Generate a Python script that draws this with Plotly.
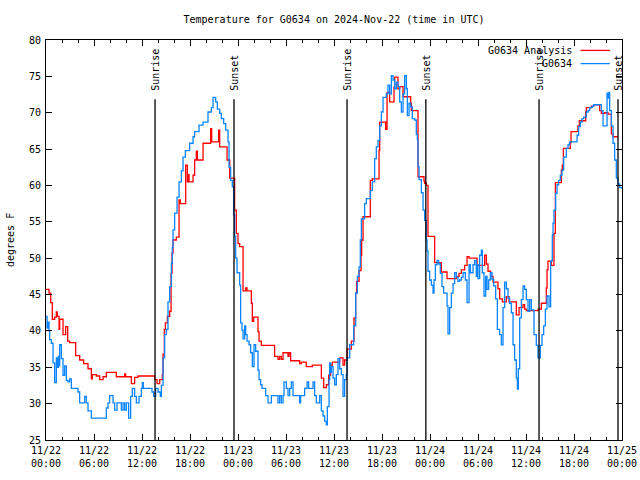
import plotly.graph_objects as go

# time in hours since 2024-11-22 00:00 UTC
analysis_h = [0, 0.38, 0.59, 0.79, 1.08, 1.29, 1.42, 1.63, 1.71, 2.13, 2.46, 2.71, 2.96, 3.71, 4.21, 4.71, 5.25, 5.67, 5.79, 6.29, 6.71, 7.13, 7.54, 8.79, 9.83, 9.96, 10.67, 11.08, 11.5, 13.58, 13.88, 14.21, 14.54, 14.63, 14.79, 14.92, 15.17, 15.46, 15.63,
              15.75, 15.88, 16.29, 16.63, 16.79, 17.46, 17.67, 17.75, 17.88, 18.38, 18.58, 18.79, 18.92, 19.63, 20.58, 20.71, 21.58, 21.71, 22.63, 22.96, 23.58, 23.79, 24.0, 24.21,
              24.63, 24.96, 25.13, 25.67, 25.79, 25.96, 26.5, 26.63, 26.92, 28.58, 29.0, 29.21, 29.42, 29.63, 30.25, 30.38, 30.58, 31.71, 31.92, 32.54, 33.29, 34.42, 34.71, 35.04, 35.33, 35.58, 35.79, 36.71, 37.13, 37.33, 37.63, 38.17, 38.5, 38.71, 38.83, 39.13, 39.38,
              39.46, 39.63, 40.54, 40.79, 41.63, 41.71, 42.46, 42.63, 42.96, 43.5, 43.58, 44.0, 44.21, 44.63, 45.58, 45.67, 46.5, 47.25, 47.33, 47.54, 47.75,
              48.58, 49.42, 50.13, 51.29, 51.63, 51.92, 52.33, 52.63, 52.88, 53.88, 54.83, 55.04, 55.25, 55.58, 55.88, 56.5, 56.71, 57.04, 57.54, 57.88, 58.79, 59.13, 59.63, 59.83, 60.04, 61.5, 61.92, 62.54, 62.63, 62.75, 63.17, 63.5,
              63.67, 64.42, 64.54, 64.67, 65.54, 65.63, 66.5, 66.67, 67.46, 67.54, 68.17, 68.46, 69.21, 69.42, 69.83, 70.25, 70.67, 70.88, 71.5]
analysis_v = [45.7, 45.2, 43.9, 41.6, 41.9, 42.6, 42.0, 40.2, 41.6, 39.5, 40.6, 38.6, 38.4, 36.6, 36.0, 35.5, 34.8, 33.4, 34.0, 33.8, 33.3, 33.7, 34.3, 33.7, 34.1, 33.7, 32.75, 33.6, 33.8, 33.3, 32.75, 33.3, 34.0, 36.8, 40.2, 41.1, 42.0, 42.7, 47.9,
              50.7, 52.5, 52.9, 58.0, 57.5, 62.8, 60.5, 61.5, 60.5, 61.4, 63.5, 64.7, 63.5, 65.8, 67.8, 66.0, 67.6, 65.3, 63.5, 61.0, 56.6, 53.4, 52.0, 51.6,
              45.5, 45.9, 45.5, 43.8, 41.3, 41.9, 39.9, 38.6, 38.0, 36.5, 36.1, 36.5, 36.1, 37.0, 36.5, 37.0, 35.9, 35.5, 35.7, 35.1, 35.3, 33.5, 32.2, 32.6, 33.9, 35.3, 35.7, 36.3, 35.3, 36.0, 37.5, 38.6, 41.8, 45.2, 46.8, 48.3, 50.4,
              52.5, 55.7, 60.7, 60.9, 64.85, 68.7, 67.7, 72.8, 71.5, 73.5, 74.9, 73.3, 73.6, 72.2, 71.3, 70.3, 61.2, 60.6, 60.3, 60.0, 53.0,
              49.4, 48.1, 47.2, 47.5, 47.9, 48.4, 49.0, 50.2, 50.0, 49.0, 50.4, 49.2, 48.2, 47.5, 46.7, 45.8, 44.4, 44.0, 44.7, 44.0, 42.2, 43.2, 43.6, 43.0, 42.8, 43.0, 43.8, 45.9, 48.4, 49.6, 49.0, 53.4,
              60.4, 62.1, 62.8, 65.1, 65.9, 67.4, 68.2, 68.9, 70.1, 70.7, 70.9, 71.1, 70.3, 69.9, 70.0, 69.8, 67.1, 66.7, 66.7]

station_h = [0, 0.13, 0.25, 0.38, 0.46, 0.67, 0.88, 1.08, 1.29, 1.42, 1.54, 1.63, 1.71, 1.92, 2.13, 2.33, 2.54, 2.75, 2.96, 3.17, 4.0, 4.21, 4.83, 5.04, 5.25, 5.67, 7.54, 7.75, 7.96, 8.38, 8.58, 8.88, 9.42, 9.63, 9.83, 10.04, 10.33, 10.58, 10.79, 11.08, 11.29, 11.63, 11.92, 12.04, 12.17, 13.25, 13.46, 13.71, 14.0, 14.29, 14.42, 14.63, 14.83, 15.04, 15.25, 15.46, 15.67,
             15.79, 15.88, 16.08, 16.38, 16.63, 16.92, 17.13, 17.42, 17.96, 18.38, 18.58, 19.13, 19.63, 20.25, 20.67, 20.88, 21.21, 21.42, 21.71, 21.92, 22.21, 22.46, 22.75, 22.88, 23.08, 23.29, 23.46, 23.58, 23.71,
             23.88, 24.21, 24.33, 24.5, 24.63, 24.83, 24.96, 25.13, 25.38, 25.58, 25.79, 26.0, 26.21, 26.5, 26.63, 26.83, 27.0, 27.46, 27.75, 28.17, 29.0, 29.21, 29.42, 29.63, 29.75, 30.04, 30.25, 30.46, 30.67, 30.88, 31.71, 31.83, 32.33, 32.63, 32.83, 33.38, 33.58, 33.79, 34.21, 34.42, 34.63, 34.83, 35.04, 35.17, 35.38, 35.46, 35.58, 35.67, 35.88, 36.08, 36.29, 36.5, 36.71, 36.92, 37.13, 37.33, 37.54, 37.63, 37.96, 38.46, 38.71, 38.92, 39.13,
             39.29, 39.42, 39.83, 40.04, 40.54, 40.79, 41.08, 41.29, 41.5, 41.71, 41.92, 42.13, 42.54, 42.75, 42.96, 43.17, 43.38, 43.58, 43.79, 44.0, 44.21, 44.42, 44.63, 44.83, 45.04, 45.17, 45.38, 45.58, 45.79, 46.08, 46.29, 46.42, 46.5, 46.63, 46.92, 47.13, 47.33, 47.54,
             47.63, 47.75, 47.96, 48.17, 48.38, 48.5, 48.67, 48.88, 49.08, 49.29, 49.5, 49.71, 50.13, 50.25, 50.46, 50.67, 50.88, 51.08, 51.29, 51.5, 51.71, 51.92, 52.13, 52.42, 52.63, 52.88, 53.04, 53.38, 53.58, 53.79, 53.88, 54.0, 54.21, 54.42, 54.54, 54.75, 54.96, 55.13, 55.33, 55.54, 55.75, 55.96, 56.21, 56.42, 56.71, 56.92, 57.13, 57.33, 57.54, 57.75, 57.96, 58.17, 58.38, 58.58, 58.79, 58.92, 59.04, 59.21, 59.42, 59.63, 59.83, 60.04, 60.25, 60.46, 60.67, 61.0, 61.29, 61.5, 61.79, 62.0, 62.21, 62.42, 62.63, 62.88, 63.08, 63.29,
             63.38, 63.5, 63.71, 63.88, 64.08, 64.29, 64.5, 64.71, 65.04, 65.25, 65.46, 66.38, 66.58, 66.79, 67.0, 67.21, 67.54, 67.75, 67.96, 68.29, 68.46, 69.42, 69.63, 70.13, 70.25, 70.38, 70.46, 70.67, 70.88, 71.08, 71.29, 71.5, 71.71, 72.0]
station_v = [42.0, 40.4, 41.2, 40.0, 38.8, 38.3, 35.6, 32.9, 36.3, 35.0, 36.5, 35.2, 38.1, 36.2, 33.9, 35.2, 33.2, 33.0, 33.4, 32.1, 31.6, 30.1, 31.0, 30.1, 29.0, 28.0, 29.4, 30.1, 31.1, 30.1, 29.1, 30.1, 29.1, 30.1, 29.1, 30.1, 28.0, 31.0, 32.1, 31.0, 30.1, 31.0, 32.1, 32.9, 32.1, 31.6, 31.0, 32.1, 31.6, 31.0, 32.5, 36.3, 39.5, 40.2, 44.0, 46.1, 49.3,
             51.5, 53.9, 56.2, 58.4, 60.5, 62.0, 63.9, 64.8, 65.8, 66.7, 67.4, 68.3, 68.7, 70.1, 70.7, 72.1, 71.5, 70.5, 69.9, 69.2, 68.5, 67.6, 66.0, 62.5, 60.7, 59.8, 56.0, 53.0, 50.0,
             48.0, 46.3, 41.1, 40.1, 38.9, 40.7, 39.5, 38.6, 38.1, 37.0, 35.1, 38.1, 37.2, 34.6, 33.3, 32.6, 32.1, 31.1, 30.1, 31.1, 30.1, 31.1, 30.1, 31.1, 33.0, 32.1, 31.1, 32.1, 33.0, 31.1, 30.1, 31.1, 32.1, 33.0, 32.1, 33.0, 31.1, 30.1, 31.1, 29.0, 28.3, 27.6, 27.1, 29.6, 33.3, 35.6, 34.3, 35.1, 33.5, 32.6, 34.0, 36.2, 34.8, 34.0, 31.0, 33.3, 34.0, 36.3, 38.1, 40.7, 45.2, 47.5, 48.8,
             52.5, 55.4, 57.5, 58.2, 59.3, 60.5, 63.7, 65.3, 66.2, 68.2, 70.1, 72.1, 72.6, 73.8, 72.6, 75.1, 74.5, 73.3, 74.2, 73.6, 71.5, 70.1, 72.6, 75.1, 73.3, 69.6, 71.3, 70.8, 69.2, 69.0, 67.0, 66.3, 62.6, 60.8, 59.0, 56.6, 55.2, 52.5,
             51.0, 48.2, 47.0, 46.3, 45.2, 47.0, 49.1, 49.7, 49.2, 47.9, 46.1, 45.2, 43.4, 39.6, 43.2, 45.2, 46.5, 48.0, 47.4, 46.8, 47.0, 47.4, 48.0, 47.0, 43.9, 49.1, 48.0, 49.1, 49.7, 47.5, 49.1, 47.2, 50.4, 51.1, 48.0, 44.8, 47.5, 45.7, 47.0, 48.0, 47.1, 46.2, 44.4, 40.2, 39.5, 38.1, 43.2, 46.7, 45.8, 44.5, 43.8, 42.5, 38.1, 36.0, 33.5, 32.0, 34.8, 41.8, 44.3, 46.2, 45.7, 44.3, 42.7, 44.3, 42.9, 39.5, 38.0, 36.3, 38.0, 39.5, 40.7, 43.0, 44.8, 43.3, 49.6, 53.2,
             54.8, 56.6, 58.9, 60.1, 60.7, 61.4, 62.1, 63.9, 65.1, 65.6, 66.0, 66.9, 68.1, 68.7, 69.2, 69.4, 70.1, 70.3, 70.7, 70.9, 71.1, 70.3, 68.2, 72.7, 72.0, 72.8, 70.3, 68.2, 65.8, 63.5, 61.0, 60.2, 59.7, 59.5]

sunrise_h = [13.63, 37.63, 61.63]
sunset_h = [23.5, 47.48, 71.5]

tick_h = list(range(0, 73, 6))
tick_text = ["11/22<br>00:00", "11/22<br>06:00", "11/22<br>12:00", "11/22<br>18:00",
             "11/23<br>00:00", "11/23<br>06:00", "11/23<br>12:00", "11/23<br>18:00",
             "11/24<br>00:00", "11/24<br>06:00", "11/24<br>12:00", "11/24<br>18:00",
             "11/25<br>00:00"]

FONT = "DejaVu Sans Mono"
RED = "#ff0000"
BLUE = "#0a84ff"

fig = go.Figure()
fig.add_trace(go.Scatter(x=analysis_h, y=analysis_v, mode="lines", line=dict(color=RED, width=1.3, shape="hv"),
                         name="G0634 Analysis", showlegend=False))
fig.add_trace(go.Scatter(x=station_h, y=station_v, mode="lines", line=dict(color=BLUE, width=1.3, shape="hv"),
                         name="G0634", showlegend=False))

shapes = []
annotations = []
for h, lab in [(v, "Sunrise") for v in sunrise_h] + [(v, "Sunset") for v in sunset_h]:
    shapes.append(dict(type="line", xref="x", yref="paper", x0=h, x1=h, y0=0, y1=0.852,
                       line=dict(color="black", width=1.3)))
    annotations.append(dict(x=h, xref="x", y=0.868, yref="paper", text=lab, textangle=-90,
                            showarrow=False, xanchor="center", yanchor="bottom", xshift=1,
                            font=dict(family=FONT, size=10, color="black")))

# manual legend (text right-justified, sample on the right)
for i, (lab, col) in enumerate([("G0634 Analysis", RED), ("G0634", BLUE)]):
    yy = 0.974 - i * 0.033
    annotations.append(dict(x=0.916, y=yy, xref="paper", yref="paper", text=lab, showarrow=False,
                            xanchor="right", yanchor="middle", font=dict(family=FONT, size=10, color="black")))
    shapes.append(dict(type="line", xref="paper", yref="paper", x0=0.928, x1=0.979, y0=yy, y1=yy,
                       line=dict(color=col, width=1.3)))

annotations.append(dict(x=-0.0625, y=0.5, xref="paper", yref="paper", text="degrees F", textangle=-90,
                        showarrow=False, xanchor="center", yanchor="middle",
                        font=dict(family=FONT, size=10, color="black")))

fig.update_layout(
    width=640, height=480,
    margin=dict(l=46, r=18, t=40, b=40, autoexpand=False),
    paper_bgcolor="white", plot_bgcolor="white",
    font=dict(family=FONT, size=10, color="black"),
    title=dict(text="Temperature for G0634 on 2024-Nov-22 (time in UTC)", x=0.5, xref="paper",
               y=1 - 19 / 480, yref="container", xanchor="center", yanchor="middle",
               font=dict(family=FONT, size=10, color="black")),
    shapes=shapes, annotations=annotations,
)
fig.update_xaxes(range=[0, 72], tickvals=tick_h, ticktext=tick_text, ticks="inside", ticklen=6,
                 tickcolor="black", showline=True, linecolor="black", linewidth=1, mirror="ticks",
                 showgrid=False, zeroline=False, ticklabelstandoff=1,
                 minor=dict(dtick=2, tick0=0, ticks="inside", ticklen=3, tickcolor="black", showgrid=False))
fig.update_yaxes(range=[25, 80], dtick=5, tick0=25, ticks="inside", ticklen=6, tickcolor="black",
                 showline=True, linecolor="black", linewidth=1, mirror="ticks",
                 showgrid=False, zeroline=False, ticklabelstandoff=2)

fig.write_html("out.html", config={"displayModeBar": False},
               post_script="document.body.style.margin='0';document.body.style.padding='0';")
